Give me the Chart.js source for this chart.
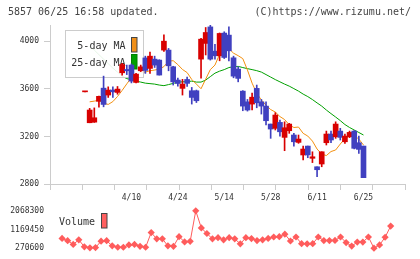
<!DOCTYPE html>
<html>
<head>
<meta charset="utf-8">
<script src="https://cdn.jsdelivr.net/npm/chart.js@4.4.1/dist/chart.umd.min.js"></script>
<style>
  body { margin: 0; background: #fff; }
  #wrap { position: relative; width: 420px; height: 259px; }
  canvas { position: absolute; left: 0; }
</style>
</head>
<body>
<div id="wrap">
  <canvas id="priceChart" width="420" height="205" style="top:0"></canvas>
  <canvas id="volChart" width="420" height="59" style="top:200px"></canvas>
</div>
<script>
const dates = ['3/27','3/28','3/29','3/30','4/2','4/3','4/4','4/5','4/6','4/9',
  '4/10','4/11','4/12','4/13','4/16','4/17','4/18','4/19','4/20','4/23',
  '4/24','4/25','4/26','4/27','5/2','5/7','5/8','5/9','5/10','5/11',
  '5/14','5/15','5/16','5/17','5/18','5/21','5/22','5/23','5/24','5/25',
  '5/28','5/29','5/30','5/31','6/1','6/4','6/5','6/6','6/7','6/8',
  '6/11','6/12','6/13','6/14','6/15','6/18','6/19','6/20','6/21','6/22','6/25'];

const open  = [3575,3315,3320,3495,3606,3548,3590,3570,3735,3763,
  3800,3654,3752,3860,3772,3850,3842,3926,3926,3786,
  3674,3604,3679,3584,3584,3850,3982,4121,3917,3878,
  4069,4052,3861,3766,3581,3491,3472,3604,3491,3455,
  3304,3268,3318,3192,3248,3212,3150,3044,3119,3016,
  2945,2968,3147,3220,3197,3245,3155,3197,3245,3147,3119];
const high  = [3575,3436,3440,3540,3707,3617,3617,3620,3815,3800,
  3810,3730,3800,3875,3910,3875,3845,4055,3940,3790,
  3690,3680,3700,3612,3590,4025,4116,4135,3975,4070,
  4080,4121,3875,3786,3585,3511,3565,3632,3511,3491,
  3304,3400,3338,3323,3310,3226,3212,3119,3119,3071,
  2945,3071,3245,3245,3323,3268,3220,3245,3250,3203,3119];
const low   = [3575,3315,3318,3445,3449,3528,3528,3555,3715,3720,
  3650,3650,3745,3730,3730,3780,3716,3915,3752,3632,
  3623,3548,3620,3472,3485,3690,3885,3842,3850,3836,
  3855,3836,3693,3659,3416,3413,3422,3441,3388,3296,
  3184,3254,3203,3080,3226,3119,3142,3002,3021,2980,
  2861,2945,3128,3147,3184,3170,3142,3190,3095,3058,2853];
const close = [3575,3422,3357,3537,3469,3590,3575,3598,3805,3752,
  3665,3724,3785,3755,3875,3800,3716,4001,3794,3659,
  3645,3640,3646,3528,3500,4018,4074,3850,3878,4066,
  3864,3920,3707,3688,3455,3422,3530,3483,3455,3332,
  3262,3380,3239,3273,3304,3155,3178,3094,3044,3029,
  2920,3071,3220,3170,3304,3192,3203,3234,3100,3091,2853];

const ma5 = [null,3491,3497,3504,3480,3469,3493,3536,3587,3642,
  3695,3716,3741,3741,3753,3758,3766,3787,3833,3837,
  3804,3763,3737,3679,3640,3601,3682,3762,3800,3892,
  3955,3938,3900,3879,3854,3758,3648,3564,3506,3464,
  3426,3405,3367,3342,3298,3275,3279,3226,3203,3161,
  3094,3052,3039,3073,3086,3136,3182,3203,3207,3178,3128];
const ma25 = [null,3955,3926,3888,3850,3812,3774,3741,3707,3686,
  3678,3665,3657,3648,3644,3640,3632,3627,3636,3646,
  3657,3659,3661,3665,3657,3657,3674,3703,3732,3749,
  3762,3779,3787,3789,3779,3770,3762,3753,3741,3720,
  3699,3678,3659,3640,3623,3602,3581,3556,3535,3510,
  3482,3455,3422,3392,3363,3333,3300,3275,3254,3233,3212];

const volume = [null,742000,630000,450000,675000,338000,290000,300000,608000,630000,
  383000,316000,316000,428000,450000,360000,316000,1021000,720000,720000,
  383000,360000,823000,572000,599000,2068300,1246000,976000,720000,778000,
  675000,778000,720000,482000,778000,733000,639000,675000,742000,810000,
  823000,945000,617000,810000,486000,482000,486000,810000,639000,639000,
  644000,810000,540000,374000,563000,563000,810000,270600,428000,796000,1336000];

const labelIdx = [10, 20, 30, 40, 50, 60];
const priceTicks = [2800, 3200, 3600, 4000];
const volTicks = [270600, 1169450, 2068300];

const UP = '#d80000', DOWN = '#4040c0';
const MONO = 'DejaVu Sans Mono';
const xMin = -1.17, xMax = 62.57;

const candleColor = open.map((o, i) => close[i] >= o ? UP : DOWN);
const pts = arr => arr.map((v, i) => ({x: i, y: v}));

const titles = {
  id: 'titles',
  afterDraw(chart) {
    const ctx = chart.ctx;
    ctx.save();
    ctx.font = '10px ' + MONO;
    ctx.fillStyle = '#444';
    ctx.textBaseline = 'middle';
    ctx.textAlign = 'left';
    ctx.fillText('5857 06/25 16:58 updated.', 8, 12);
    ctx.textAlign = 'right';
    ctx.fillText('(C)https://www.rizumu.net/', 411, 12);
    ctx.restore();
  }
};

// legend box sits over the MA lines but under the candles
const maLegend = {
  id: 'maLegend',
  afterDatasetDraw(chart, args) {
    if (args.index !== 1) return;
    const ctx = chart.ctx;
    ctx.save();
    ctx.fillStyle = 'rgba(255,255,255,0.9)';
    ctx.fillRect(65.5, 30.5, 78, 47);
    ctx.strokeStyle = '#ccc';
    ctx.lineWidth = 1;
    ctx.strokeRect(65.5, 30.5, 78, 47);
    ctx.font = '10px ' + MONO;
    ctx.fillStyle = '#333';
    ctx.textAlign = 'right';
    ctx.textBaseline = 'middle';
    ctx.fillText('5-day MA', 125.5, 46);
    ctx.fillText('25-day MA', 125.5, 63);
    ctx.fillStyle = '#f0901a';
    ctx.fillRect(131.5, 37.5, 5.5, 14.5);
    ctx.strokeStyle = '#444';
    ctx.strokeRect(131.5, 37.5, 5.5, 14.5);
    ctx.fillStyle = '#00a000';
    ctx.fillRect(131.5, 54.5, 5.5, 14.5);
    ctx.strokeStyle = '#008000';
    ctx.strokeRect(131.5, 54.5, 5.5, 14.5);
    ctx.restore();
  }
};

new Chart(document.getElementById('priceChart'), {
  data: {
    datasets: [
      { type: 'line', label: '25-day MA', data: pts(ma25), borderColor: '#00a000',
        borderWidth: 1, pointRadius: 0, order: 4 },
      { type: 'line', label: '5-day MA', data: pts(ma5), borderColor: '#f39010',
        borderWidth: 1, pointRadius: 0, order: 3 },
      { type: 'bar', label: 'wick', data: low.map((l, i) => ({x: i, y: [l, high[i]]})),
        backgroundColor: candleColor, barThickness: 1, grouped: false, order: 2 },
      { type: 'bar', label: 'body', data: open.map((o, i) => ({x: i, y: [o, close[i]]})),
        backgroundColor: candleColor, barThickness: 5, minBarLength: 1, grouped: false, order: 1 }
    ]
  },
  options: {
    responsive: false,
    animation: false,
    events: [],
    layout: { padding: { top: 25, right: 15, left: 0, bottom: 0 } },
    plugins: { legend: { display: false }, tooltip: { enabled: false } },
    scales: {
      x: {
        type: 'linear', min: xMin, max: xMax, position: 'bottom', weight: 1,
        grid: { display: false, drawTicks: false },
        border: { display: false },
        afterBuildTicks: s => { s.ticks = labelIdx.map(v => ({value: v})); },
        afterFit: s => { s.height = 15; },
        ticks: {
          autoSkip: false, maxRotation: 0, minRotation: 0, padding: 3,
          font: { family: MONO, size: 8 }, color: '#333',
          callback: v => dates[v]
        }
      },
      xt: {
        type: 'linear', min: 0, max: 11, position: 'bottom', weight: 0,
        grid: { drawOnChartArea: false, tickLength: 6, color: '#ccc' },
        border: { color: '#ccc' },
        ticks: { display: false, stepSize: 1 },
        afterFit: s => { s.height = 6; }
      },
      y: {
        type: 'linear', min: 2800, max: 4137, position: 'left',
        grid: { drawOnChartArea: false, tickLength: 6, color: '#ccc' },
        border: { color: '#ccc' },
        afterBuildTicks: s => { s.ticks = priceTicks.map(v => ({value: v})); },
        afterFit: s => { s.width = 50; },
        ticks: { padding: 5, font: { family: MONO, size: 8 }, color: '#333',
          callback: v => String(v) }
      }
    }
  },
  plugins: [titles, maLegend]
});

const volLegend = {
  id: 'volLegend',
  afterDraw(chart) {
    const ctx = chart.ctx;
    ctx.save();
    ctx.font = '10px ' + MONO;
    ctx.fillStyle = '#333';
    ctx.textAlign = 'left';
    ctx.textBaseline = 'middle';
    ctx.fillText('Volume', 59, 22);
    ctx.fillStyle = '#ff6060';
    ctx.fillRect(101.5, 13.5, 5.5, 14.5);
    ctx.strokeStyle = '#444';
    ctx.lineWidth = 1;
    ctx.strokeRect(101.5, 13.5, 5.5, 14.5);
    ctx.restore();
  }
};

new Chart(document.getElementById('volChart'), {
  type: 'line',
  data: {
    datasets: [{
      label: 'Volume', data: pts(volume), borderColor: '#ff5c5c', borderWidth: 1,
      pointStyle: 'rectRot', pointRadius: 3.6, pointBackgroundColor: '#ff5c5c',
      pointBorderWidth: 0, clip: false
    }]
  },
  options: {
    responsive: false,
    animation: false,
    events: [],
    layout: { padding: { top: 9, right: 15, left: 0, bottom: 10 } },
    plugins: { legend: { display: false }, tooltip: { enabled: false } },
    scales: {
      x: { type: 'linear', min: xMin, max: xMax, display: false },
      y: {
        type: 'linear', min: 270600, max: 2068300,
        grid: { display: false, drawTicks: false },
        border: { display: false },
        afterBuildTicks: s => { s.ticks = volTicks.map(v => ({value: v})); },
        afterFit: s => { s.width = 50; },
        ticks: { padding: 6, font: { family: MONO, size: 8 }, color: '#333',
          callback: v => String(v) }
      }
    }
  },
  plugins: [volLegend]
});
</script>
</body>
</html>
